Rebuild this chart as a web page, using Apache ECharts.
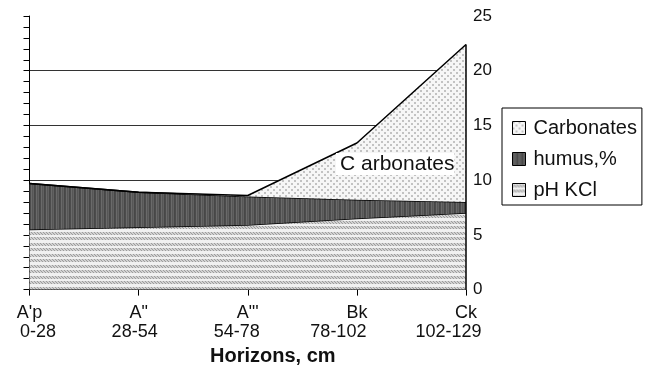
<!DOCTYPE html>
<html>
<head>
<meta charset="utf-8">
<script src="https://cdn.jsdelivr.net/npm/echarts@6/dist/echarts.min.js"></script>
<style>
  html, body { margin: 0; padding: 0; background: #fff; }
  #chart { width: 646px; height: 371px; }
</style>
</head>
<body>
<div id="chart"></div>
<script>
// Soil profile: horizons and their depth ranges
const horizons = ["A'p", 'A"', 'A"\'', 'Bk', 'Ck'];
const depths = ['0-28', '28-54', '54-78', '78-102', '102-129'];

// Stacked values per horizon
const phKCl = [5.5, 5.7, 5.9, 6.5, 7.0];
const humus = [4.2, 3.2, 2.6, 1.7, 1.0];
const carbonates = [0, 0, 0.1, 5.2, 14.4];

// Right-hand value axis labels
const yTickLabels = ['0', '5', '10', '15', '20', '25'];

const FONT = '"Liberation Sans", Arial, sans-serif';

// Horizontal nudges for the depth line under each horizon name [right, left]
const depthNudge = [[0, 17], [8, 0], [22, 0], [37, 0], [35, 0]];

function tile(w, h, draw) {
  const c = document.createElement('canvas');
  c.width = w; c.height = h;
  const ctx = c.getContext('2d');
  draw(ctx);
  return { image: c, repeat: 'repeat' };
}

// pH KCl: rows of small slanted hatches on a pale ground
const phFill = tile(6, 11, ctx => {
  ctx.fillStyle = '#f1f1f1';
  ctx.fillRect(0, 0, 6, 11);
  [0, 5].forEach(r => {
    ctx.fillStyle = '#d2d2d2';
    ctx.fillRect(0, r + 1, 6, 3);
    ctx.fillStyle = '#9c9c9c';
    for (let y = 0; y < 3; y++) {
      for (let x = 0; x < 6; x++) {
        if ((x + y) % 3 === 0) ctx.fillRect(x, r + 1 + (2 - y), 1, 1);
      }
    }
  });
});

// humus: dark ground with fine vertical streaks
const humusFill = tile(5, 1, ctx => {
  const cols = ['#4c4c4c', '#6a6a6a', '#565656', '#616161', '#474747'];
  cols.forEach((c, i) => { ctx.fillStyle = c; ctx.fillRect(i, 0, 1, 1); });
});

// carbonates: light stipple
const carbFill = tile(6, 6, ctx => {
  ctx.fillStyle = '#f6f6f6';
  ctx.fillRect(0, 0, 6, 6);
  ctx.fillStyle = '#c2c2c2';
  ctx.fillRect(0, 0, 2, 2);
  ctx.fillRect(3, 3, 2, 2);
});

const rich = { h: { fontFamily: FONT, fontSize: 18, lineHeight: 19, color: '#111' } };
depthNudge.forEach((n, i) => {
  rich['d' + i] = { fontFamily: FONT, fontSize: 18, lineHeight: 19, color: '#111', padding: [0, n[0], 0, n[1]] };
});

const lineStyle = { color: '#000', width: 1.5 };
const ckTotal = phKCl[4] + humus[4] + carbonates[4];

const chart = echarts.init(document.getElementById('chart'), null, { renderer: 'canvas' });
chart.setOption({
  animation: false,
  backgroundColor: '#fff',
  grid: { left: 27, right: 180, top: 16, bottom: 78, containLabel: false },
  legend: {
    orient: 'vertical',
    left: 502,
    top: 108,
    padding: [10, 5, 5, 10],
    itemGap: 11,
    itemWidth: 13,
    itemHeight: 13,
    borderColor: '#000',
    borderWidth: 1,
    textStyle: { fontFamily: FONT, fontSize: 20, color: '#111', padding: [0, 0, 0, 3] },
    data: [
      { name: 'Carbonates', icon: 'rect', itemStyle: { color: carbFill, borderColor: '#000', borderWidth: 1 } },
      { name: 'humus,%', icon: 'rect', itemStyle: { color: humusFill, borderColor: '#000', borderWidth: 1 } },
      { name: 'pH KCl', icon: 'rect', itemStyle: { color: phFill, borderColor: '#000', borderWidth: 1 } }
    ]
  },
  xAxis: {
    type: 'category',
    data: horizons,
    boundaryGap: false,
    axisLine: { lineStyle: { color: '#000', width: 1 } },
    axisTick: { show: true, length: 6, lineStyle: { color: '#000' } },
    axisLabel: {
      margin: 14,
      interval: 0,
      align: 'center',
      formatter: (v, i) => `{h|${v}}\n{d${i}|${depths[i]}}`,
      rich
    },
    name: 'Horizons, cm',
    nameLocation: 'middle',
    nameGap: 53,
    nameTextStyle: { fontFamily: FONT, fontSize: 20, fontWeight: 'bold', color: '#111', padding: [0, 0, 0, 50] },
    splitLine: { show: false }
  },
  yAxis: [
    {
      type: 'value',
      position: 'left',
      min: 0, max: 25, interval: 1,
      axisLine: { show: true, lineStyle: { color: '#000', width: 1 } },
      axisTick: { show: true, length: 6, lineStyle: { color: '#000' } },
      axisLabel: { show: false },
      splitLine: { show: false }
    },
    {
      type: 'value',
      position: 'right',
      min: 0, max: 25, interval: 5,
      axisLine: { show: false },
      axisTick: { show: false },
      axisLabel: {
        margin: 7,
        fontFamily: FONT, fontSize: 17, color: '#111',
        formatter: v => yTickLabels[v / 5]
      },
      splitLine: { show: true, showMinLine: false, showMaxLine: false, lineStyle: { color: '#333', width: 1 } }
    }
  ],
  series: [
    {
      name: 'pH KCl', type: 'line', stack: 'soil', data: phKCl,
      symbol: 'none', color: '#d2d2d2',
      lineStyle, areaStyle: { color: phFill, opacity: 1 }, z: 2
    },
    {
      name: 'humus,%', type: 'line', stack: 'soil', data: humus,
      symbol: 'none', color: '#565656',
      lineStyle, areaStyle: { color: humusFill, opacity: 1 }, z: 3
    },
    {
      name: 'Carbonates', type: 'line', stack: 'soil', data: carbonates,
      symbol: 'none', color: '#e0e0e0',
      lineStyle, areaStyle: { color: carbFill, opacity: 1 }, z: 4,
      markLine: {
        silent: true, symbol: 'none', label: { show: false },
        lineStyle: { color: '#000', width: 1.5, type: 'solid' },
        data: [[{ coord: [horizons.length - 1, 0] }, { coord: [horizons.length - 1, ckTotal] }]]
      }
    }
  ],
  graphic: [
    {
      type: 'text',
      x: 336, y: 164, z: 100,
      style: {
        text: 'C arbonates',
        fontFamily: FONT, fontSize: 21, fill: '#111',
        align: 'left', verticalAlign: 'middle',
        backgroundColor: '#fff', padding: [1, 0, 0, 4]
      }
    }
  ]
});
</script>
</body>
</html>
